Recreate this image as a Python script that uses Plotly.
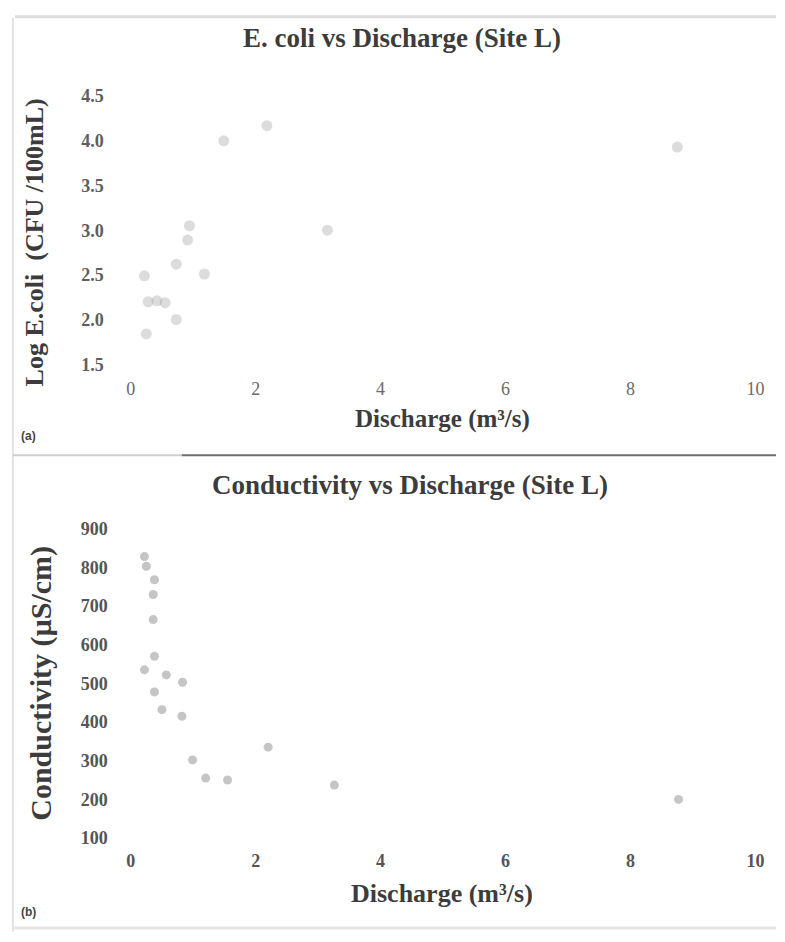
import plotly.graph_objects as go

# Panel (a): log10 E. coli against discharge
discharge_ecoli = [0.22, 0.25, 0.28, 0.42, 0.55, 0.73, 0.73, 0.91, 0.94, 1.18, 1.49, 2.18, 3.15, 8.75]
log_ecoli = [2.49, 1.84, 2.20, 2.21, 2.19, 2.00, 2.62, 2.89, 3.05, 2.51, 4.00, 4.17, 3.00, 3.93]

# Panel (b): specific conductance against discharge
discharge_cond = [0.22, 0.25, 0.38, 0.36, 0.36, 0.38, 0.22, 0.57, 0.83, 0.38, 0.50, 0.82, 0.99, 1.20, 1.55, 2.20, 3.26, 8.77]
conductivity = [828, 803, 768, 730, 665, 570, 535, 522, 503, 478, 432, 415, 302, 255, 250, 335, 237, 200]

x_ticks = [0, 2, 4, 6, 8, 10]
ecoli_ticks = [1.5, 2.0, 2.5, 3.0, 3.5, 4.0, 4.5]
cond_ticks = [100, 200, 300, 400, 500, 600, 700, 800, 900]

W, H = 785, 942


def fx(p):
    return p / W


def fy(p):
    return 1 - p / H


SERIF = "Liberation Serif"
TITLE_COLOR = "#3c3c3c"
TICK_A_X = dict(family=SERIF, size=18, color="#6a6a6a")
TICK_A_Y = dict(family=SERIF, size=18, color="#5e5e5e", weight="bold")
TICK_B = dict(family=SERIF, size=18, color="#555555", weight="bold")

fig = go.Figure()
fig.add_trace(go.Scatter(
    x=discharge_ecoli, y=log_ecoli, mode="markers", xaxis="x", yaxis="y",
    marker=dict(size=11, color="rgba(150,150,150,0.33)", line=dict(width=0)),
    hoverinfo="x+y",
))
fig.add_trace(go.Scatter(
    x=discharge_cond, y=conductivity, mode="markers", xaxis="x2", yaxis="y2",
    marker=dict(size=9, color="rgba(140,140,140,0.5)", line=dict(width=0)),
    hoverinfo="x+y",
))

base = dict(showgrid=False, zeroline=False, showline=False, ticks="")
X_DOMAIN = [fx(128), fx(764)]

fig.update_layout(
    width=W, height=H,
    margin=dict(l=0, r=0, t=0, b=0),
    paper_bgcolor="white", plot_bgcolor="white",
    showlegend=False,
    xaxis=dict(domain=X_DOMAIN, anchor="y", range=[0, 10], tickvals=x_ticks,
               tickfont=TICK_A_X, ticklabelstandoff=12, **base),
    yaxis=dict(domain=[fy(362), fy(88)], anchor="x", range=[1.5, 4.5],
               tickvals=ecoli_ticks, tickformat=".1f", tickfont=TICK_A_Y,
               ticklabelstandoff=26, **base),
    xaxis2=dict(domain=X_DOMAIN, anchor="y2", range=[0, 10], tickvals=x_ticks,
                tickfont=TICK_B, ticklabelstandoff=10, **base),
    yaxis2=dict(domain=[fy(846), fy(530)], anchor="x2", range=[100, 900],
                tickvals=cond_ticks, tickfont=TICK_B, ticklabelstandoff=22, **base),
)

texts = [
    ("E. coli vs Discharge (Site L)", 404, 29, 27, 0),
    ("Discharge (m³/s)", 445, 418, 25, 0),
    ("Log E.coli  (CFU /100mL)", 31, 237, 26, -90),
    ("Conductivity vs Discharge (Site L)", 412, 485, 27, 0),
    ("Discharge (m³/s)", 445, 903, 26, 0),
    ("Conductivity (µS/cm)", 37, 688, 30, -90),
]
for txt, x, y, size, ang in texts:
    fig.add_annotation(
        text=txt, x=fx(x), y=fy(y), xref="paper", yref="paper",
        xanchor="center", yanchor="middle", showarrow=False, textangle=ang,
        font=dict(family=SERIF, size=size, color=TITLE_COLOR, weight="bold"),
    )

for lbl, y in [("(a)", 435), ("(b)", 922)]:
    fig.add_annotation(
        text=lbl, x=fx(14), y=fy(y), xref="paper", yref="paper",
        xanchor="left", yanchor="middle", showarrow=False,
        font=dict(family="Liberation Sans", size=12, color="#444444", weight="bold"),
    )

# page edges and the rule separating the two panels
lines = [
    (10, 7, 785, 7, "#dddddd", 3),
    (8, 8, 8, 942, "#e2e2e2", 2),
    (8, 938, 785, 938, "#e6e6e6", 3),
    (8, 455, 180, 455, "#cfcfcf", 2),
    (180, 455, 785, 455, "#6e6e6e", 2),
]
for x0, y0, x1, y1, col, w in lines:
    fig.add_shape(type="line", xref="paper", yref="paper",
                  x0=fx(x0), y0=fy(y0), x1=fx(x1), y1=fy(y1),
                  line=dict(color=col, width=w))

fig.write_html("out.html")
